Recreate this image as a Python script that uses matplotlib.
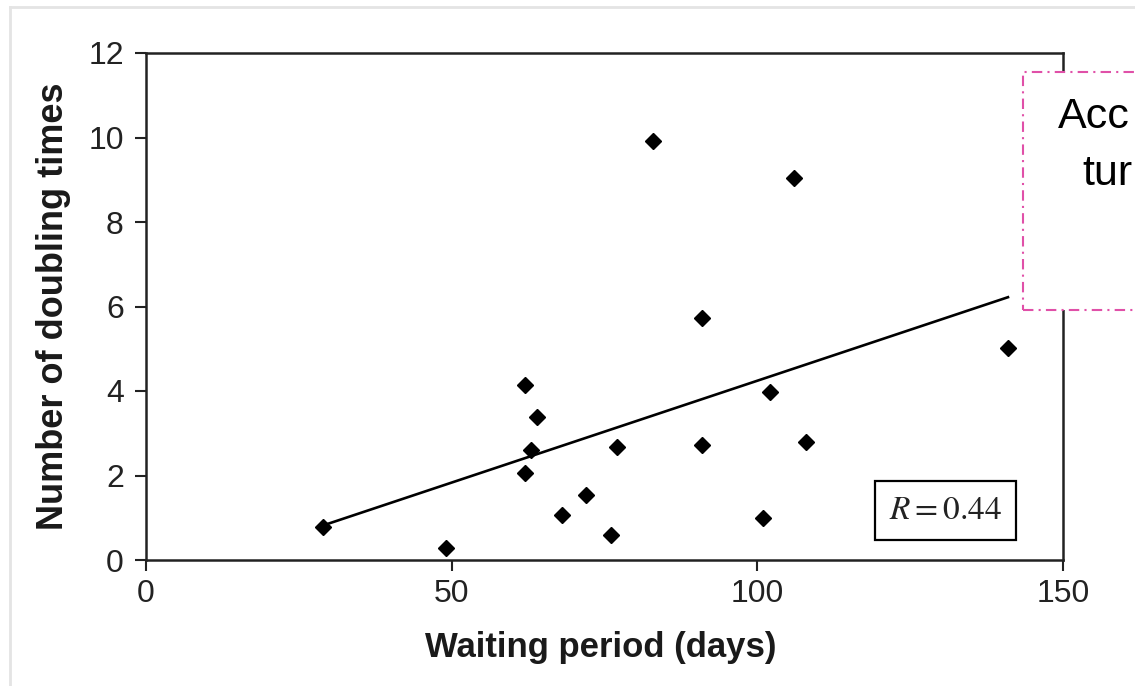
import matplotlib
matplotlib.use("Agg")
import matplotlib.pyplot as plt
import matplotlib.patches as mpatches
from matplotlib.lines import Line2D

# data
waiting_days = [29, 49, 62, 64, 63, 62, 68, 72, 76, 77, 83, 91, 91, 101, 102, 106, 108, 141]
doubling_times = [0.78, 0.28, 4.14, 3.38, 2.6, 2.06, 1.07, 1.54, 0.59, 2.67,
                  9.92, 2.72, 5.73, 0.99, 3.98, 9.04, 2.79, 5.02]

# regression line endpoints (as drawn in the figure)
trend_x = [29, 141]
trend_y = [0.82, 6.22]

x_ticks = [0, 50, 100, 150]
y_ticks = [0, 2, 4, 6, 8, 10, 12]
r_label = r"$R = 0.44$"

plt.rcParams['font.family'] = ['Liberation Sans', 'DejaVu Sans']
plt.rcParams['mathtext.fontset'] = 'stix'

W, H = 1135, 686
fig = plt.figure(figsize=(W / 100, H / 100), dpi=100)
fig.patch.set_facecolor('white')

# axes box in pixel terms -> figure fraction
left, right, top, bottom = 146, 1063, 53, 560
ax = fig.add_axes([left / W, 1 - bottom / H, (right - left) / W, (bottom - top) / H])

ax.plot(trend_x, trend_y, color='black', lw=1.9, zorder=2)
ax.plot(waiting_days, doubling_times, linestyle='none', marker='D', ms=8.4,
        color='black', zorder=3)

ax.set_xlim(0, 150)
ax.set_ylim(0, 12)
ax.set_xticks(x_ticks)
ax.set_yticks(y_ticks)
ax.tick_params(direction='out', length=8, width=1.5, labelsize=23,
               colors='#222222', pad=6)
ax.tick_params(axis='y', pad=8)
for sp in ax.spines.values():
    sp.set_linewidth(1.8)
    sp.set_color('#222222')

ax.set_xlabel("Waiting period (days)", fontsize=25, fontweight='bold', color='#1a1a1a')
ax.set_ylabel("Number of doubling times", fontsize=26, fontweight='bold', color='#1a1a1a')
ax.xaxis.set_label_coords(0.496, -0.14)
ax.yaxis.set_label_coords(-0.082, 0.5)

# correlation box
ax.text(0.872, 0.097, r_label, transform=ax.transAxes, ha='center', va='center',
        fontsize=24, color='#222222',
        bbox=dict(boxstyle='square,pad=0.42', fc='white', ec='black', lw=1.6))

# light grey frame of the screenshot
fig.add_artist(Line2D([10 / W, 1], [1 - 7 / H, 1 - 7 / H], color='#e4e4e4', lw=2))
fig.add_artist(Line2D([10 / W, 10 / W], [0, 1 - 7 / H], color='#e4e4e4', lw=2))

# magenta dash-dot callout, cut off at the right edge
callout = mpatches.Rectangle((1023 / W, 1 - 310 / H), 200 / W, 238 / H,
                             transform=fig.transFigure, fc='white', ec='#e050a8',
                             lw=1.5, linestyle=(0, (5, 2.5, 1, 2.5)), zorder=5)
fig.add_artist(callout)
fig.text(1058 / W, 1 - 128 / H, "Acc", fontsize=31, color='black',
         ha='left', va='baseline', zorder=6)
fig.text(1082 / W, 1 - 185 / H, "tur", fontsize=31, color='black',
         ha='left', va='baseline', zorder=6)

fig.savefig("out.png", dpi=100)
